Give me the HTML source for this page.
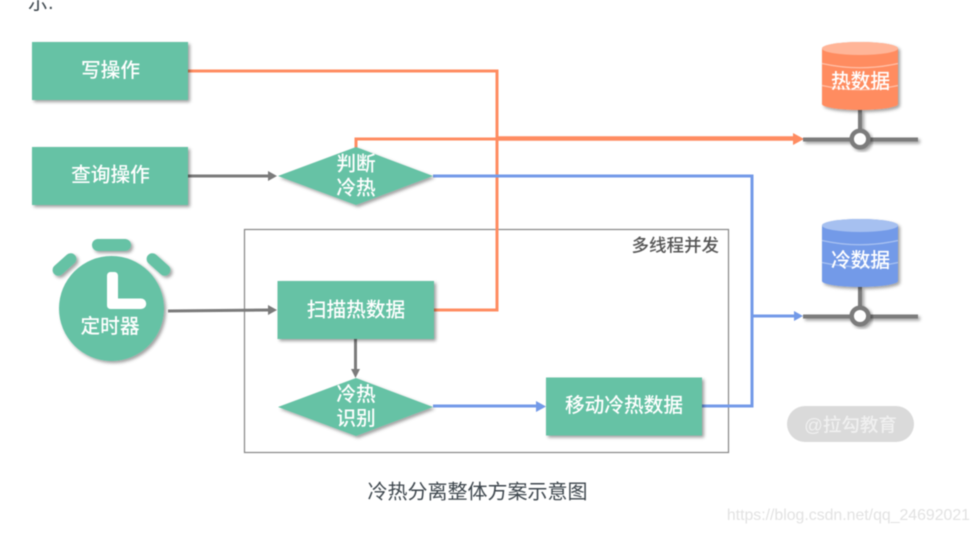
<!DOCTYPE html>
<html><head><meta charset="utf-8">
<style>
html,body{margin:0;padding:0;background:#fff;width:977px;height:533px;overflow:hidden}
svg{display:block;filter:blur(.45px)}
text{font-family:"Liberation Sans","Noto Sans CJK SC",sans-serif}
.w{fill:#fff;font-size:19.700px;text-anchor:middle;font-weight:500}
</style></head><body>
<svg width="977" height="533" viewBox="0 0 977 533" xmlns="http://www.w3.org/2000/svg">
<defs>
<filter id="s" x="-20%" y="-20%" width="150%" height="150%"><feDropShadow dx="2" dy="2" stdDeviation="1.5" flood-color="#000" flood-opacity=".38"/></filter>
</defs>
<rect width="977" height="533" fill="#fff"/>
<text x="28" y="9" font-size="20" fill="#3d464d">示.</text>

<rect x="244.500" y="229.500" width="484" height="223" fill="none" stroke="#868686" stroke-width="1.2"/>
<text x="719" y="251.500" font-size="17.500" fill="#555" text-anchor="end" font-weight="500">多线程并发</text>

<!-- connectors -->
<path d="M188 71H497V310H434" fill="none" stroke="#ff8c61" stroke-width="3"/>
<path d="M356 150V139H497" fill="none" stroke="#ff8c61" stroke-width="3"/>
<path d="M497 138.500H795" fill="none" stroke="#ff8c61" stroke-width="4.500"/>
<path d="M793 133L804 139L793 145Z" fill="#ff8c61"/>
<path d="M433 176H752V406H702" fill="none" stroke="#739ae8" stroke-width="3"/>
<path d="M752 316H796" fill="none" stroke="#739ae8" stroke-width="3"/>
<path d="M794 311L803 316L794 321Z" fill="#739ae8"/>
<path d="M433 406H538" fill="none" stroke="#739ae8" stroke-width="3"/>
<path d="M536 401L546 406.500L536 412Z" fill="#739ae8"/>
<path d="M188 176H270" fill="none" stroke="#7b7b7b" stroke-width="3"/>
<path d="M268 171L277 176L268 181Z" fill="#7b7b7b"/>
<path d="M168 311L270 310" fill="none" stroke="#7b7b7b" stroke-width="3"/>
<path d="M268 305L277 310L268 315Z" fill="#7b7b7b"/>
<path d="M355.500 339V371" fill="none" stroke="#7b7b7b" stroke-width="3"/>
<path d="M351 369L355.500 378L360 369Z" fill="#7b7b7b"/>

<!-- boxes -->
<g fill="#66c2a5" filter="url(#s)">
<rect x="32" y="42" width="156" height="58"/>
<rect x="32" y="147" width="156" height="58"/>
<path d="M278 176L356 147L433 176L356 205Z"/>
<rect x="277.500" y="281" width="156.500" height="58"/>
<path d="M278 407L356 378L433 407L356 436Z"/>
<rect x="546" y="377.500" width="156" height="58"/>
<circle cx="111.500" cy="308.500" r="52.500"/>
<rect x="92" y="239" width="39" height="12" rx="6"/>
<rect x="50.500" y="258.750" width="28" height="11.500" rx="5.750" transform="rotate(-42 64.500 264.500)"/>
<rect x="144.500" y="258.750" width="28" height="11.500" rx="5.750" transform="rotate(42 158.500 264.500)"/>
</g>
<path d="M107 275.500a3.500 3.500 0 0 1 3.500-3.500h4a3.500 3.500 0 0 1 3.500 3.500V298.500h23a5.250 5.250 0 0 1 0 10.500H110.500a3.500 3.500 0 0 1-3.500-3.500Z" fill="#fff"/>

<text class="w" x="110.500" y="77">写操作</text>
<text class="w" x="110.500" y="181.500">查询操作</text>
<text class="w" x="356" y="170.500">判断</text>
<text class="w" x="356" y="194.500">冷热</text>
<text class="w" x="356" y="316.500">扫描热数据</text>
<text class="w" x="356" y="401">冷热</text>
<text class="w" x="356" y="425">识别</text>
<text class="w" x="624" y="412">移动冷热数据</text>
<text class="w" x="110" y="333">定时器</text>

<!-- hot DB -->
<path d="M860 110V139M803 139.500H918" stroke="#7b7b7b" stroke-width="4" fill="none" filter="url(#s)"/>
<circle cx="860" cy="139" r="8.300" fill="#fff" stroke="#7b7b7b" stroke-width="4.500" filter="url(#s)"/>
<path d="M822 48.500A38 6.500 0 0 1 898 48.500V104A38 6 0 0 1 822 104Z" fill="#ff8c61" filter="url(#s)"/>
<ellipse cx="860" cy="48.500" rx="38" ry="6.500" fill="#ffb598"/>
<path d="M822 63.500Q860 72 898 63.500M822 85.500Q860 94 898 85.500" stroke="#ffc0a8" stroke-width="1.300" fill="none"/>
<text class="w" x="860.500" y="88">热数据</text>

<!-- cold DB -->
<path d="M860 287V316M803 316.500H918" stroke="#7b7b7b" stroke-width="4" fill="none" filter="url(#s)"/>
<circle cx="860" cy="316" r="8.300" fill="#fff" stroke="#7b7b7b" stroke-width="4.500" filter="url(#s)"/>
<path d="M822 225.500A38 6.500 0 0 1 898 225.500V281A38 6 0 0 1 822 281Z" fill="#739ae8" filter="url(#s)"/>
<ellipse cx="860" cy="225.500" rx="38" ry="6.500" fill="#a6c0f0"/>
<path d="M822 240.500Q860 249 898 240.500M822 262.500Q860 271 898 262.500" stroke="#a9c2f1" stroke-width="1.300" fill="none"/>
<text class="w" x="860.500" y="267">冷数据</text>

<!-- watermark -->
<rect x="787" y="406" width="127" height="36" rx="18" fill="#dadada"/>
<text x="850.500" y="431.500" font-size="18.500" fill="#f0f0f0" text-anchor="middle" font-weight="500">@拉勾教育</text>

<text x="477.500" y="498.500" font-size="20" fill="#3d464d" text-anchor="middle">冷热分离整体方案示意图</text>
<text x="970" y="520" font-size="15.850" fill="#e2e2e2" text-anchor="end">https://blog.csdn.net/qq_24692021</text>
</svg>
</body></html>
